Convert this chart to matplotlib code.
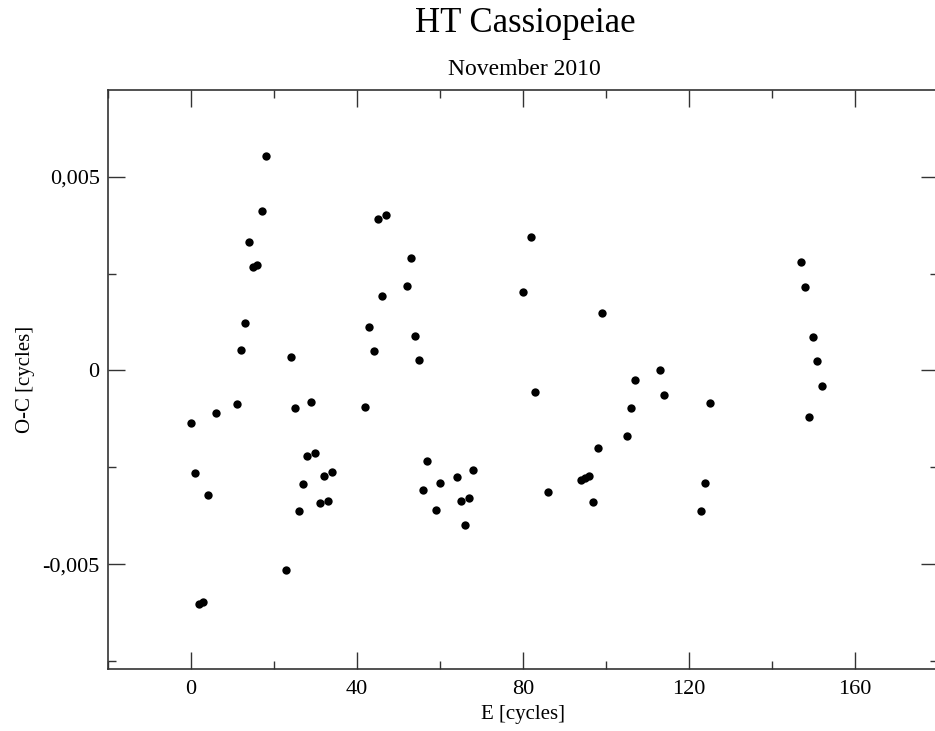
import matplotlib
matplotlib.use("Agg")
import matplotlib.pyplot as plt
from matplotlib.ticker import MultipleLocator, FuncFormatter

plt.rcParams['font.family'] = ['Liberation Serif', 'DejaVu Serif']

# cycle number E and O-C residuals (cycles)
epoch = [0, 1, 2, 3, 4, 6, 11, 12, 13, 14, 15, 16, 17, 18,
         23, 24, 25, 26, 27, 28, 29, 30, 31, 32, 33, 34,
         42, 43, 44, 45, 46, 47, 52, 53, 54, 55, 56, 57, 59, 60,
         64, 65, 66, 67, 68, 80, 82, 83, 86,
         94, 95, 96, 97, 98, 99, 105, 106, 107, 113, 114,
         123, 124, 125, 147, 148, 149, 150, 151, 152]
o_c = [-0.00137, -0.00265, -0.00602, -0.00597, -0.00322, -0.00109, -0.00088,
       0.00052, 0.00122, 0.00331, 0.00266, 0.00273, 0.00412, 0.00553,
       -0.00516, 0.00034, -0.00098, -0.00364, -0.00294, -0.00220, -0.00082,
       -0.00213, -0.00343, -0.00273, -0.00337, -0.00263,
       -0.00095, 0.00111, 0.00049, 0.00391, 0.00192, 0.00402, 0.00219,
       0.00290, 0.00090, 0.00027, -0.00309, -0.00235, -0.00361, -0.00290,
       -0.00274, -0.00337, -0.00399, -0.00330, -0.00256, 0.00202, 0.00345,
       -0.00057, -0.00315,
       -0.00283, -0.00279, -0.00273, -0.00340, -0.00201, 0.00147, -0.00169,
       -0.00098, -0.00025, 0.00000, -0.00064,
       -0.00364, -0.00290, -0.00084, 0.00279, 0.00216, -0.00120, 0.00087,
       0.00024, -0.00040]

fig = plt.figure(figsize=(9.35, 7.31), dpi=100)
ax = fig.add_axes([0.1155, 0.0848, 0.8875, 0.7921])

ax.plot(epoch, o_c, 'o', color='black', markersize=6, markeredgewidth=0)

ax.set_xlim(-20, 180)
ax.set_ylim(-0.00771, 0.00724)

ax.xaxis.set_major_locator(MultipleLocator(40))
ax.xaxis.set_minor_locator(MultipleLocator(20))
ax.yaxis.set_major_locator(MultipleLocator(0.005))
ax.yaxis.set_minor_locator(MultipleLocator(0.0025))


def comma_fmt(v, pos):
    if abs(v) < 1e-12:
        return "0"
    return ("%.3f" % v).replace(".", ",")


ax.yaxis.set_major_formatter(FuncFormatter(comma_fmt))

ax.tick_params(which='both', direction='in', top=True, right=True,
               width=1.0, color='#333333', labelsize=16)
ax.tick_params(axis='x', pad=8)
ax.tick_params(axis='y', pad=6)
ax.tick_params(which='major', length=12)
ax.tick_params(which='minor', length=6)
for s in ax.spines.values():
    s.set_linewidth(1.2)
    s.set_color('#333333')

ax.set_xlabel("E [cycles]", fontsize=15, labelpad=4)
ax.set_ylabel("O-C [cycles]", fontsize=15, labelpad=5)

fig.text(0.562, 0.956, "HT Cassiopeiae", ha='center', va='baseline', fontsize=25)
fig.text(0.561, 0.897, "November 2010", ha='center', va='baseline', fontsize=17)

fig.savefig("out.png", dpi=100)
